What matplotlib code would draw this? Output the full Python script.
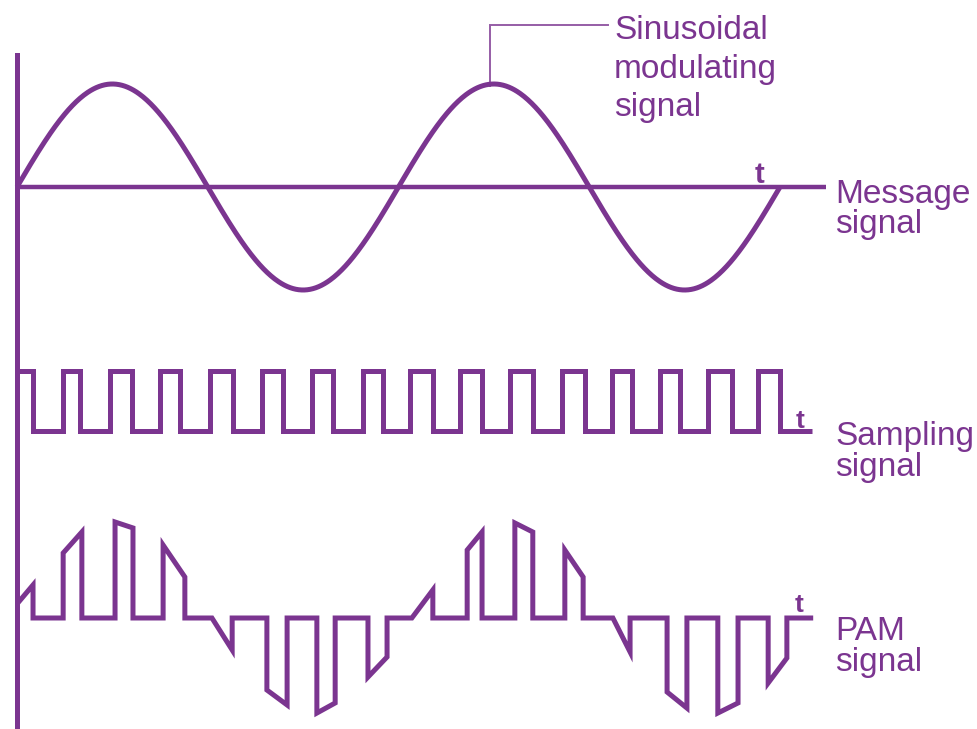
import numpy as np
import matplotlib
matplotlib.use("Agg")
import matplotlib.pyplot as plt

# --- data (time in message periods, amplitudes normalised) ---
msg_cycles = 2.0          # two full periods of the message sine
msg_amplitude = 1.0
axis_end = 2.12           # where the time axis of the message stops

# sampling pulses: first partial pulse starts at t=0
samp_first_end = 0.042
samp_starts = [0.121, 0.244, 0.374, 0.506, 0.642, 0.773, 0.907, 1.030,
               1.161, 1.292, 1.429, 1.560, 1.685, 1.811, 1.942]
samp_ends = [0.165, 0.301, 0.427, 0.566, 0.697, 0.828, 0.959, 1.090,
             1.219, 1.353, 1.489, 1.612, 1.738, 1.874, 1.999]
samp_stop = 2.084

# PAM pulses (natural sampling): start / end time, top value at start / end
pam_starts = [0.0, 0.121, 0.257, 0.383, 0.511, 0.655, 0.786, 0.920,
              1.035, 1.180, 1.305, 1.436, 1.562, 1.704, 1.837, 1.969]
pam_ends = [0.042, 0.170, 0.304, 0.440, 0.564, 0.708, 0.834, 0.970,
            1.090, 1.219, 1.352, 1.484, 1.607, 1.756, 1.890, 2.018]
pam_top_start = [0.146, 0.677, 1.0, 0.76, 0.0, -0.75, -0.99, -0.615,
                 0.0, 0.708, 0.99, 0.708, 0.0, -0.771, -0.99, -0.677]
pam_top_end = [0.344, 0.896, 0.938, 0.427, -0.333, -0.906, -0.885, -0.406,
               0.292, 0.896, 0.896, 0.427, -0.354, -0.938, -0.885, -0.417]
pam_stop = 2.087

PURPLE = '#7b3590'
W, H = 978, 729
px_per_t = 381.5
x0_px = 17
LW = 3.6

plt.rcParams['font.family'] = ['Liberation Sans', 'DejaVu Sans']

fig = plt.figure(figsize=(W / 100, H / 100), dpi=100)


def make_axes(y0_px, scale_px):
    # full-figure axes; value 0 sits at pixel row y0_px, 1 unit = scale_px
    ax = fig.add_axes([0, 0, 1, 1])
    ax.set_xlim(-x0_px / px_per_t, (W - x0_px) / px_per_t)
    ax.set_ylim(-(H - y0_px) / scale_px, y0_px / scale_px)
    ax.axis('off')
    ax.patch.set_alpha(0)
    return ax


# message signal
ax1 = make_axes(187, 103)
t = np.linspace(0, msg_cycles, 800)
ax1.plot(t, msg_amplitude * np.sin(2 * np.pi * t), color=PURPLE, lw=LW,
         solid_capstyle='butt')
ax1.plot([0, axis_end], [0, 0], color=PURPLE, lw=3.2, solid_capstyle='butt')
ax1.axvline(0, ymin=0, ymax=1 - 55 / H, color=PURPLE, lw=LW)
# leader line to the label
t_peak = 1.25
ax1.plot([t_peak - 0.01, t_peak - 0.01, 1.549], [0.98, 1.573, 1.573],
         color=PURPLE, lw=1.4, alpha=0.8, solid_joinstyle='miter')

# sampling signal
ax2 = make_axes(431, 60)
sx = [0, samp_first_end, samp_first_end]
sy = [1, 1, 0]
for s, e in zip(samp_starts, samp_ends):
    sx += [s, s, e, e]
    sy += [0, 1, 1, 0]
sx.append(samp_stop)
sy.append(0)
ax2.plot(sx, sy, color=PURPLE, lw=LW, solid_joinstyle='miter',
         solid_capstyle='butt')

# PAM signal
ax3 = make_axes(618, 96)
px_, py_ = [], []
for i, (s, e, a, b) in enumerate(zip(pam_starts, pam_ends, pam_top_start, pam_top_end)):
    if i > 0:
        px_.append(s)
        py_.append(0)
    px_ += [s, e, e]
    py_ += [a, b, 0]
px_.append(pam_stop)
py_.append(0)
ax3.plot(px_, py_, color=PURPLE, lw=LW, solid_joinstyle='miter',
         solid_capstyle='butt')


def ftext(x_px, y_px, s, **kw):
    fig.text(x_px / W, 1 - y_px / H, s, color=PURPLE, **kw)


FS = 24
ftext(614, 15, 'Sinusoidal\nmodulating\nsignal', fontsize=FS, va='top',
      linespacing=1.32)
ftext(835, 179, 'Message\nsignal', fontsize=FS, va='top', linespacing=0.94)
ftext(835, 421, 'Sampling\nsignal', fontsize=FS, va='top', linespacing=0.98)
ftext(835, 616, 'PAM\nsignal', fontsize=FS, va='top', linespacing=0.98)
ftext(760, 183, 't', fontsize=21, fontweight='bold', ha='center', va='baseline')
ftext(800, 428, 't', fontsize=19, fontweight='bold', ha='center', va='baseline')
ftext(799, 612, 't', fontsize=19, fontweight='bold', ha='center', va='baseline')

fig.savefig('out.png', dpi=100)
